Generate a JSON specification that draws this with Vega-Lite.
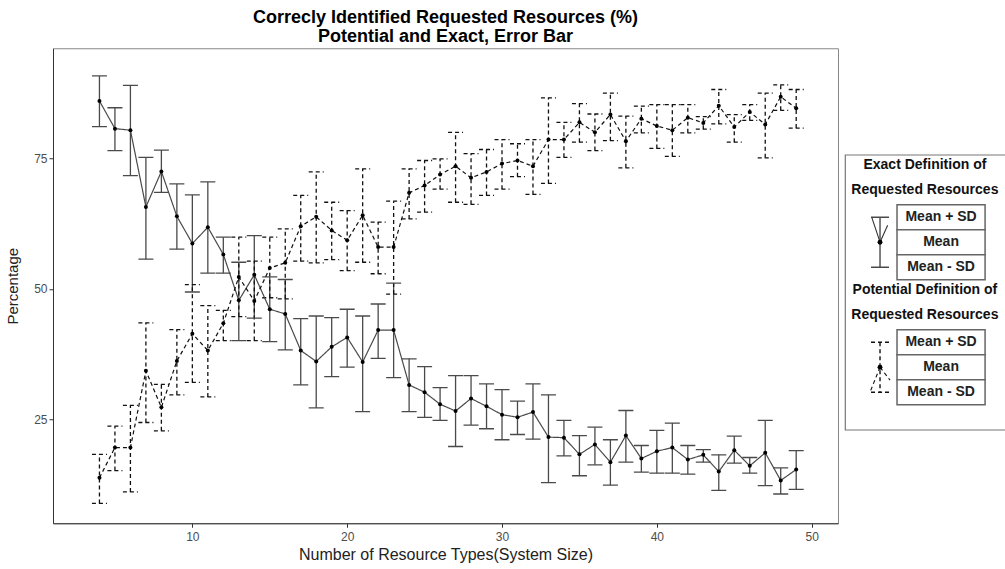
{
 "$schema": "https://vega.github.io/schema/vega-lite/v6.json",
 "background": "white",
 "padding": {"left": 5, "top": 8, "right": 0, "bottom": 0},
 "spacing": 5,
 "center": true,
 "config": {"font": "Liberation Sans", "view": {"stroke": "#888888"}},
 "datasets": {
  "main": [
   {"n":4,"type":"Exact","mean":86.0,"lo":81.1,"hi":90.8},
   {"n":5,"type":"Exact","mean":80.7,"lo":76.5,"hi":84.7},
   {"n":6,"type":"Exact","mean":80.4,"lo":71.7,"hi":89.0},
   {"n":7,"type":"Exact","mean":65.7,"lo":55.7,"hi":75.2},
   {"n":8,"type":"Exact","mean":72.5,"lo":68.5,"hi":76.6},
   {"n":9,"type":"Exact","mean":63.9,"lo":57.6,"hi":70.1},
   {"n":10,"type":"Exact","mean":58.7,"lo":49.4,"hi":68.0},
   {"n":11,"type":"Exact","mean":61.8,"lo":53.0,"hi":70.5},
   {"n":12,"type":"Exact","mean":56.6,"lo":53.0,"hi":59.9},
   {"n":13,"type":"Exact","mean":47.8,"lo":40.1,"hi":55.1},
   {"n":14,"type":"Exact","mean":52.7,"lo":44.4,"hi":60.2},
   {"n":15,"type":"Exact","mean":46.1,"lo":39.9,"hi":52.3},
   {"n":16,"type":"Exact","mean":45.2,"lo":38.3,"hi":51.8},
   {"n":17,"type":"Exact","mean":38.2,"lo":31.6,"hi":44.3},
   {"n":18,"type":"Exact","mean":36.1,"lo":27.2,"hi":44.8},
   {"n":19,"type":"Exact","mean":38.9,"lo":33.2,"hi":44.5},
   {"n":20,"type":"Exact","mean":40.7,"lo":35.0,"hi":46.1},
   {"n":21,"type":"Exact","mean":36.0,"lo":26.5,"hi":44.8},
   {"n":22,"type":"Exact","mean":42.1,"lo":36.7,"hi":47.1},
   {"n":23,"type":"Exact","mean":42.1,"lo":33.0,"hi":51.1},
   {"n":24,"type":"Exact","mean":31.6,"lo":26.5,"hi":36.6},
   {"n":25,"type":"Exact","mean":30.2,"lo":25.4,"hi":35.1},
   {"n":26,"type":"Exact","mean":27.9,"lo":24.8,"hi":31.1},
   {"n":27,"type":"Exact","mean":26.6,"lo":19.8,"hi":33.4},
   {"n":28,"type":"Exact","mean":29.0,"lo":23.9,"hi":33.4},
   {"n":29,"type":"Exact","mean":27.5,"lo":23.2,"hi":31.8},
   {"n":30,"type":"Exact","mean":25.9,"lo":21.1,"hi":30.7},
   {"n":31,"type":"Exact","mean":25.4,"lo":22.1,"hi":28.5},
   {"n":32,"type":"Exact","mean":26.4,"lo":21.2,"hi":31.8},
   {"n":33,"type":"Exact","mean":21.6,"lo":12.9,"hi":29.7},
   {"n":34,"type":"Exact","mean":21.5,"lo":18.0,"hi":24.8},
   {"n":35,"type":"Exact","mean":18.3,"lo":14.2,"hi":21.9},
   {"n":36,"type":"Exact","mean":20.2,"lo":16.3,"hi":23.5},
   {"n":37,"type":"Exact","mean":16.8,"lo":12.4,"hi":21.1},
   {"n":38,"type":"Exact","mean":21.9,"lo":16.8,"hi":26.7},
   {"n":39,"type":"Exact","mean":17.5,"lo":14.9,"hi":20.0},
   {"n":40,"type":"Exact","mean":18.9,"lo":14.7,"hi":22.9},
   {"n":41,"type":"Exact","mean":19.6,"lo":14.7,"hi":24.3},
   {"n":42,"type":"Exact","mean":17.3,"lo":14.5,"hi":20.0},
   {"n":43,"type":"Exact","mean":18.2,"lo":16.8,"hi":19.2},
   {"n":44,"type":"Exact","mean":15.0,"lo":11.4,"hi":18.2},
   {"n":45,"type":"Exact","mean":19.1,"lo":16.6,"hi":21.8},
   {"n":46,"type":"Exact","mean":16.1,"lo":14.7,"hi":17.7},
   {"n":47,"type":"Exact","mean":18.6,"lo":12.3,"hi":24.8},
   {"n":48,"type":"Exact","mean":13.3,"lo":10.7,"hi":15.7},
   {"n":49,"type":"Exact","mean":15.4,"lo":11.6,"hi":19.0},
   {"n":4,"type":"Potential","mean":13.8,"lo":8.9,"hi":18.3},
   {"n":5,"type":"Potential","mean":19.6,"lo":15.2,"hi":23.7},
   {"n":6,"type":"Potential","mean":19.6,"lo":11.1,"hi":27.7},
   {"n":7,"type":"Potential","mean":34.3,"lo":24.4,"hi":43.5},
   {"n":8,"type":"Potential","mean":27.3,"lo":22.8,"hi":31.7},
   {"n":9,"type":"Potential","mean":36.2,"lo":29.7,"hi":42.2},
   {"n":10,"type":"Potential","mean":41.4,"lo":32.1,"hi":50.8},
   {"n":11,"type":"Potential","mean":38.2,"lo":29.3,"hi":46.8},
   {"n":12,"type":"Potential","mean":43.4,"lo":40.1,"hi":45.9},
   {"n":13,"type":"Potential","mean":52.3,"lo":44.7,"hi":59.9},
   {"n":14,"type":"Potential","mean":47.7,"lo":40.1,"hi":55.3},
   {"n":15,"type":"Potential","mean":54.0,"lo":48.3,"hi":59.9},
   {"n":16,"type":"Potential","mean":55.0,"lo":48.1,"hi":61.5},
   {"n":17,"type":"Potential","mean":62.0,"lo":55.3,"hi":67.9},
   {"n":18,"type":"Potential","mean":63.8,"lo":55.0,"hi":72.4},
   {"n":19,"type":"Potential","mean":61.2,"lo":55.6,"hi":66.6},
   {"n":20,"type":"Potential","mean":59.3,"lo":53.5,"hi":65.0},
   {"n":21,"type":"Potential","mean":64.1,"lo":55.1,"hi":73.0},
   {"n":22,"type":"Potential","mean":58.0,"lo":52.9,"hi":62.8},
   {"n":23,"type":"Potential","mean":58.0,"lo":49.0,"hi":66.8},
   {"n":24,"type":"Potential","mean":68.4,"lo":63.4,"hi":73.0},
   {"n":25,"type":"Potential","mean":69.8,"lo":64.7,"hi":74.6},
   {"n":26,"type":"Potential","mean":71.9,"lo":69.1,"hi":74.9},
   {"n":27,"type":"Potential","mean":73.5,"lo":66.6,"hi":80.0},
   {"n":28,"type":"Potential","mean":71.3,"lo":66.2,"hi":75.9},
   {"n":29,"type":"Potential","mean":72.4,"lo":67.9,"hi":76.7},
   {"n":30,"type":"Potential","mean":74.0,"lo":69.1,"hi":78.6},
   {"n":31,"type":"Potential","mean":74.6,"lo":71.5,"hi":77.8},
   {"n":32,"type":"Potential","mean":73.5,"lo":68.1,"hi":78.6},
   {"n":33,"type":"Potential","mean":78.6,"lo":70.2,"hi":86.6},
   {"n":34,"type":"Potential","mean":78.6,"lo":75.2,"hi":81.9},
   {"n":35,"type":"Potential","mean":81.9,"lo":78.1,"hi":85.5},
   {"n":36,"type":"Potential","mean":80.0,"lo":76.5,"hi":83.5},
   {"n":37,"type":"Potential","mean":83.4,"lo":78.4,"hi":87.5},
   {"n":38,"type":"Potential","mean":78.3,"lo":73.2,"hi":83.1},
   {"n":39,"type":"Potential","mean":82.6,"lo":79.9,"hi":85.0},
   {"n":40,"type":"Potential","mean":81.2,"lo":76.9,"hi":85.3},
   {"n":41,"type":"Potential","mean":80.4,"lo":75.4,"hi":85.3},
   {"n":42,"type":"Potential","mean":82.8,"lo":79.9,"hi":85.3},
   {"n":43,"type":"Potential","mean":81.8,"lo":80.6,"hi":83.0},
   {"n":44,"type":"Potential","mean":85.1,"lo":81.6,"hi":88.2},
   {"n":45,"type":"Potential","mean":81.0,"lo":78.1,"hi":83.4},
   {"n":46,"type":"Potential","mean":83.9,"lo":82.3,"hi":85.3},
   {"n":47,"type":"Potential","mean":81.5,"lo":75.1,"hi":87.5},
   {"n":48,"type":"Potential","mean":86.8,"lo":84.2,"hi":89.1},
   {"n":49,"type":"Potential","mean":84.6,"lo":80.8,"hi":88.2}
  ],
  "legend": [
   {"slot":"T1a","label":"Exact  Definition of","kind":"title"},
   {"slot":"T1b","label":"Requested Resources","kind":"title"},
   {"slot":"E+","label":"Mean + SD","kind":"item"},
   {"slot":"E0","label":"Mean","kind":"item"},
   {"slot":"E-","label":"Mean - SD","kind":"item"},
   {"slot":"T2a","label":"Potential Definition of","kind":"title"},
   {"slot":"T2b","label":"Requested Resources","kind":"title"},
   {"slot":"P+","label":"Mean + SD","kind":"item"},
   {"slot":"P0","label":"Mean","kind":"item"},
   {"slot":"P-","label":"Mean - SD","kind":"item"}
  ],
  "icons": [
   {"type":"Exact","top":"E+","mid":"E0","bot":"E-"},
   {"type":"Potential","top":"P+","mid":"P0","bot":"P-"}
  ]
 },
 "hconcat": [
  {
   "width": 785,
   "height": 475,
   "title": {"text": ["Correcly Identified Requested Resources (%)", "Potential and Exact, Error Bar"], "fontSize": 18, "fontWeight": "bold", "color": "#000000", "anchor": "middle", "offset": 2, "lineHeight": 19},
   "data": {"name": "main"},
   "encoding": {
    "x": {"field": "n", "type": "quantitative", "scale": {"domain": [1, 51.7], "nice": false, "zero": false},
     "axis": {"title": "Number of Resource Types(System Size)", "values": [10, 20, 30, 40, 50], "grid": false, "tickSize": 4, "labelPadding": 4, "labelFontSize": 12, "labelColor": "#4d4d4d", "titleFontSize": 16, "titleFontWeight": "normal", "titleColor": "#222222", "titlePadding": 4, "domainColor": "#333333", "tickColor": "#333333"}},
    "strokeDash": {"field": "type", "type": "nominal", "scale": {"domain": ["Exact", "Potential"], "range": [[1, 0], [4, 3]]}, "legend": null},
    "color": {"field": "type", "type": "nominal", "scale": {"domain": ["Exact", "Potential"], "range": ["#4a4a4a", "#111111"]}, "legend": null}
   },
   "layer": [
    {"mark": {"type": "rule", "strokeWidth": 1.3},
     "encoding": {"y": {"field": "lo", "type": "quantitative", "scale": {"domain": [5.1, 96.1], "nice": false, "zero": false},
       "axis": {"title": "Percentage", "values": [25, 50, 75], "grid": false, "tickSize": 4, "labelFontSize": 12, "labelColor": "#4d4d4d", "titleFontSize": 15, "titleFontWeight": "normal", "titleColor": "#222222", "titlePadding": 13, "domainColor": "#333333", "tickColor": "#333333"}},
      "y2": {"field": "hi"}}},
    {"mark": {"type": "rule", "strokeWidth": 1.3, "xOffset": -7.5, "x2Offset": 7.5},
     "encoding": {"x2": {"field": "n"}, "y": {"field": "hi", "type": "quantitative"}}},
    {"mark": {"type": "rule", "strokeWidth": 1.3, "xOffset": -7.5, "x2Offset": 7.5},
     "encoding": {"x2": {"field": "n"}, "y": {"field": "lo", "type": "quantitative"}}},
    {"mark": {"type": "line", "strokeWidth": 1.2},
     "encoding": {"y": {"field": "mean", "type": "quantitative"}}},
    {"mark": {"type": "circle", "size": 16, "opacity": 1},
     "encoding": {"y": {"field": "mean", "type": "quantitative"}, "color": {"value": "#000000"}}}
   ]
  },
  {
   "width": 170,
   "height": 275,
   "view": {"stroke": "#777777", "strokeWidth": 1.2},
   "layer": [
    {"data": {"name": "legend"}, "transform": [{"filter": "datum.kind === 'item'"}],
     "mark": {"type": "rect", "fill": "white", "stroke": "#666666", "strokeWidth": 1.5},
     "encoding": {
      "y": {"field": "slot", "type": "nominal", "scale": {"domain": ["T1a","T1b","E+","E0","E-","T2a","T2b","P+","P0","P-","end"], "paddingInner": 0, "paddingOuter": 0}, "axis": null},
      "x": {"datum": 0.306, "type": "quantitative", "scale": {"domain": [0, 1], "nice": false, "zero": false},
       "axis": {"domain": false, "ticks": false, "labels": false, "grid": false, "title": " ", "titleFontSize": 12, "titlePadding": 15}},
      "x2": {"datum": 0.824}}},
    {"data": {"name": "legend"}, "transform": [{"filter": "datum.kind === 'item'"}],
     "mark": {"type": "text", "fontSize": 14, "fontWeight": "bold", "color": "#222222", "align": "center", "baseline": "middle"},
     "encoding": {
      "y": {"field": "slot", "type": "nominal"},
      "x": {"datum": 0.565, "type": "quantitative"},
      "text": {"field": "label"}}},
    {"data": {"name": "legend"}, "transform": [{"filter": "datum.kind === 'title'"}],
     "mark": {"type": "text", "fontSize": 14, "fontWeight": "bold", "color": "#111111", "align": "center", "baseline": "middle", "dy": -2},
     "encoding": {
      "y": {"field": "slot", "type": "nominal"},
      "x": {"datum": 0.47, "type": "quantitative"},
      "text": {"field": "label"}}},
    {"data": {"name": "icons"},
     "mark": {"type": "rule", "strokeWidth": 1.4},
     "encoding": {
      "y": {"field": "top", "type": "nominal"}, "y2": {"field": "bot"},
      "x": {"datum": 0.206, "type": "quantitative"},
      "strokeDash": {"field": "type", "type": "nominal", "scale": {"domain": ["Exact", "Potential"], "range": [[1, 0], [4, 3]]}, "legend": null},
      "color": {"field": "type", "type": "nominal", "scale": {"domain": ["Exact", "Potential"], "range": ["#333333", "#111111"]}, "legend": null}}},
    {"data": {"name": "icons"},
     "mark": {"type": "rule", "strokeWidth": 1.4, "xOffset": -9, "x2Offset": 9},
     "encoding": {
      "y": {"field": "top", "type": "nominal"},
      "x": {"datum": 0.206, "type": "quantitative"}, "x2": {"datum": 0.206},
      "strokeDash": {"field": "type", "type": "nominal", "legend": null},
      "color": {"field": "type", "type": "nominal", "legend": null}}},
    {"data": {"name": "icons"},
     "mark": {"type": "rule", "strokeWidth": 1.4, "xOffset": -9, "x2Offset": 9},
     "encoding": {
      "y": {"field": "bot", "type": "nominal"},
      "x": {"datum": 0.206, "type": "quantitative"}, "x2": {"datum": 0.206},
      "strokeDash": {"field": "type", "type": "nominal", "legend": null},
      "color": {"field": "type", "type": "nominal", "legend": null}}},
    {"data": {"name": "icons"}, "transform": [{"filter": "datum.type === 'Exact'"}],
     "mark": {"type": "rule", "strokeWidth": 1.1},
     "encoding": {
      "y": {"field": "top", "type": "nominal"}, "y2": {"field": "mid"},
      "x": {"datum": 0.157, "type": "quantitative"}, "x2": {"datum": 0.206},
      "color": {"value": "#333333"}}},
    {"data": {"name": "icons"}, "transform": [{"filter": "datum.type === 'Exact'"}],
     "mark": {"type": "rule", "strokeWidth": 1.1, "yOffset": 8},
     "encoding": {
      "y": {"field": "top", "type": "nominal"}, "y2": {"field": "mid"},
      "x": {"datum": 0.251, "type": "quantitative"}, "x2": {"datum": 0.206},
      "color": {"value": "#333333"}}},
    {"data": {"name": "icons"}, "transform": [{"filter": "datum.type === 'Potential'"}],
     "mark": {"type": "rule", "strokeWidth": 1.1, "strokeDash": [4, 3]},
     "encoding": {
      "y": {"field": "mid", "type": "nominal"}, "y2": {"field": "bot"},
      "x": {"datum": 0.206, "type": "quantitative"}, "x2": {"datum": 0.147},
      "color": {"value": "#111111"}}},
    {"data": {"name": "icons"}, "transform": [{"filter": "datum.type === 'Potential'"}],
     "mark": {"type": "rule", "strokeWidth": 1.1, "strokeDash": [4, 3], "y2Offset": -12},
     "encoding": {
      "y": {"field": "mid", "type": "nominal"}, "y2": {"field": "bot"},
      "x": {"datum": 0.206, "type": "quantitative"}, "x2": {"datum": 0.265},
      "color": {"value": "#111111"}}},
    {"data": {"name": "icons"},
     "mark": {"type": "circle", "size": 24, "opacity": 1, "color": "#000000"},
     "encoding": {
      "y": {"field": "mid", "type": "nominal"},
      "x": {"datum": 0.206, "type": "quantitative"}}}
   ]
  }
 ]
}
